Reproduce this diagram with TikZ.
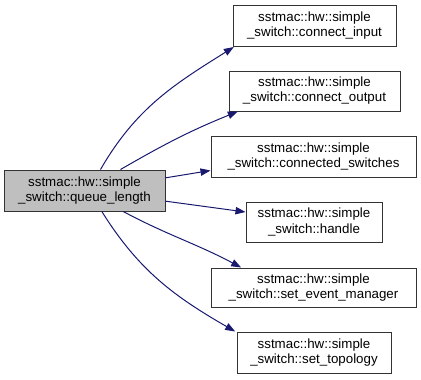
\documentclass[tikz,border=0pt]{standalone}
\usepackage{fontspec}
\setmainfont{Liberation Sans}
\usetikzlibrary{arrows.meta}

\definecolor{edgeblue}{RGB}{25,25,112}
\definecolor{curgray}{RGB}{191,191,191}
\newdimen\pxu \pxu=0.75pt

\tikzset{
  fn/.style={draw=black!80, line width=0.75pt, align=center, inner sep=0pt,
    font=\fontsize{10}{11.3}\selectfont},
  curfn/.style={fn, fill=curgray},
  call/.style={draw=edgeblue, line width=0.75pt,
    -{Triangle[length=7.5pt,width=5.5pt]}, edgeblue},
}

\begin{document}
\begin{tikzpicture}[x=0.75pt,y=-0.75pt]
  \useasboundingbox (0,0) rectangle (421,379);

  % caller
  \node[curfn, minimum width=161\pxu, minimum height=41\pxu] (qlen) at (84.5,190.5)
    {sstmac::hw::simple\\\_switch::queue\_length};

  % callees
  \node[fn, minimum width=163\pxu, minimum height=41\pxu] (cin) at (314.5,26)
    {sstmac::hw::simple\\\_switch::connect\_input};
  \node[fn, minimum width=171\pxu, minimum height=40\pxu] (cout) at (314.5,91)
    {sstmac::hw::simple\\\_switch::connect\_output};
  \node[fn, minimum width=205\pxu, minimum height=41\pxu] (csw) at (313.5,156.5)
    {sstmac::hw::simple\\\_switch::connected\_switches};
  \node[fn, minimum width=136\pxu, minimum height=40\pxu] (hdl) at (314,222)
    {sstmac::hw::simple\\\_switch::handle};
  \node[fn, minimum width=205\pxu, minimum height=39\pxu] (sem) at (313.5,287.5)
    {sstmac::hw::simple\\\_switch::set\_event\_manager};
  \node[fn, minimum width=154\pxu, minimum height=41\pxu] (stop) at (314,352.5)
    {sstmac::hw::simple\\\_switch::set\_topology};

  % calls
  \draw[call] ([xshift=12pt]qlen.north) to[out=60, in=212] ([xshift=1pt]cin.south west);
  \draw[call] ([xshift=27pt]qlen.north) to[out=30, in=202] ([xshift=7pt]cout.south west);
  \draw[call] ([yshift=9.5pt]qlen.east) -- ([yshift=-10.5pt]csw.west);
  \draw[call] ([yshift=-8pt]qlen.east) -- ([yshift=7.5pt]hdl.west);
  \draw[call] ([xshift=29pt]qlen.south) to[out=-28, in=152] ([xshift=23pt]sem.north west);
  \draw[call] ([xshift=13pt]qlen.south) to[out=-58, in=150] ([xshift=-1pt]stop.north west);
\end{tikzpicture}
\end{document}
